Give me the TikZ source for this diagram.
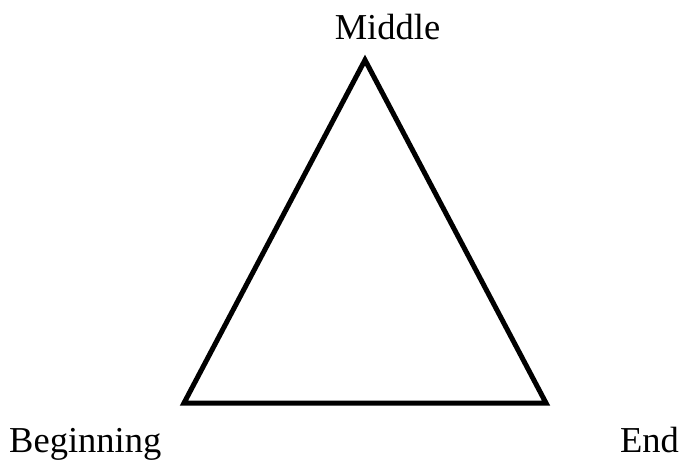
\documentclass[tikz,border=0pt]{standalone}
\usepackage{fontspec}
\setmainfont{Liberation Serif}
\begin{document}
\begin{tikzpicture}[x=1pt,y=1pt,
  lbl/.style={inner sep=0pt,font=\fontsize{36.5}{40}\selectfont},
  tri/.style={line width=5pt,line join=miter}]
\useasboundingbox (0,0) rectangle (683,459);
\coordinate (M) at (365,399);
\coordinate (B) at (184,56);
\coordinate (E) at (546,56);
\draw[tri] (M) -- (B) -- (E) -- cycle;
\node[lbl,anchor=base] (mid) at (387.5,419) {Middle};
\node[lbl,anchor=base west] (beg) at (9,7) {Beginning};
\node[lbl,anchor=base east] (end) at (679,7) {End};
\end{tikzpicture}
\end{document}
